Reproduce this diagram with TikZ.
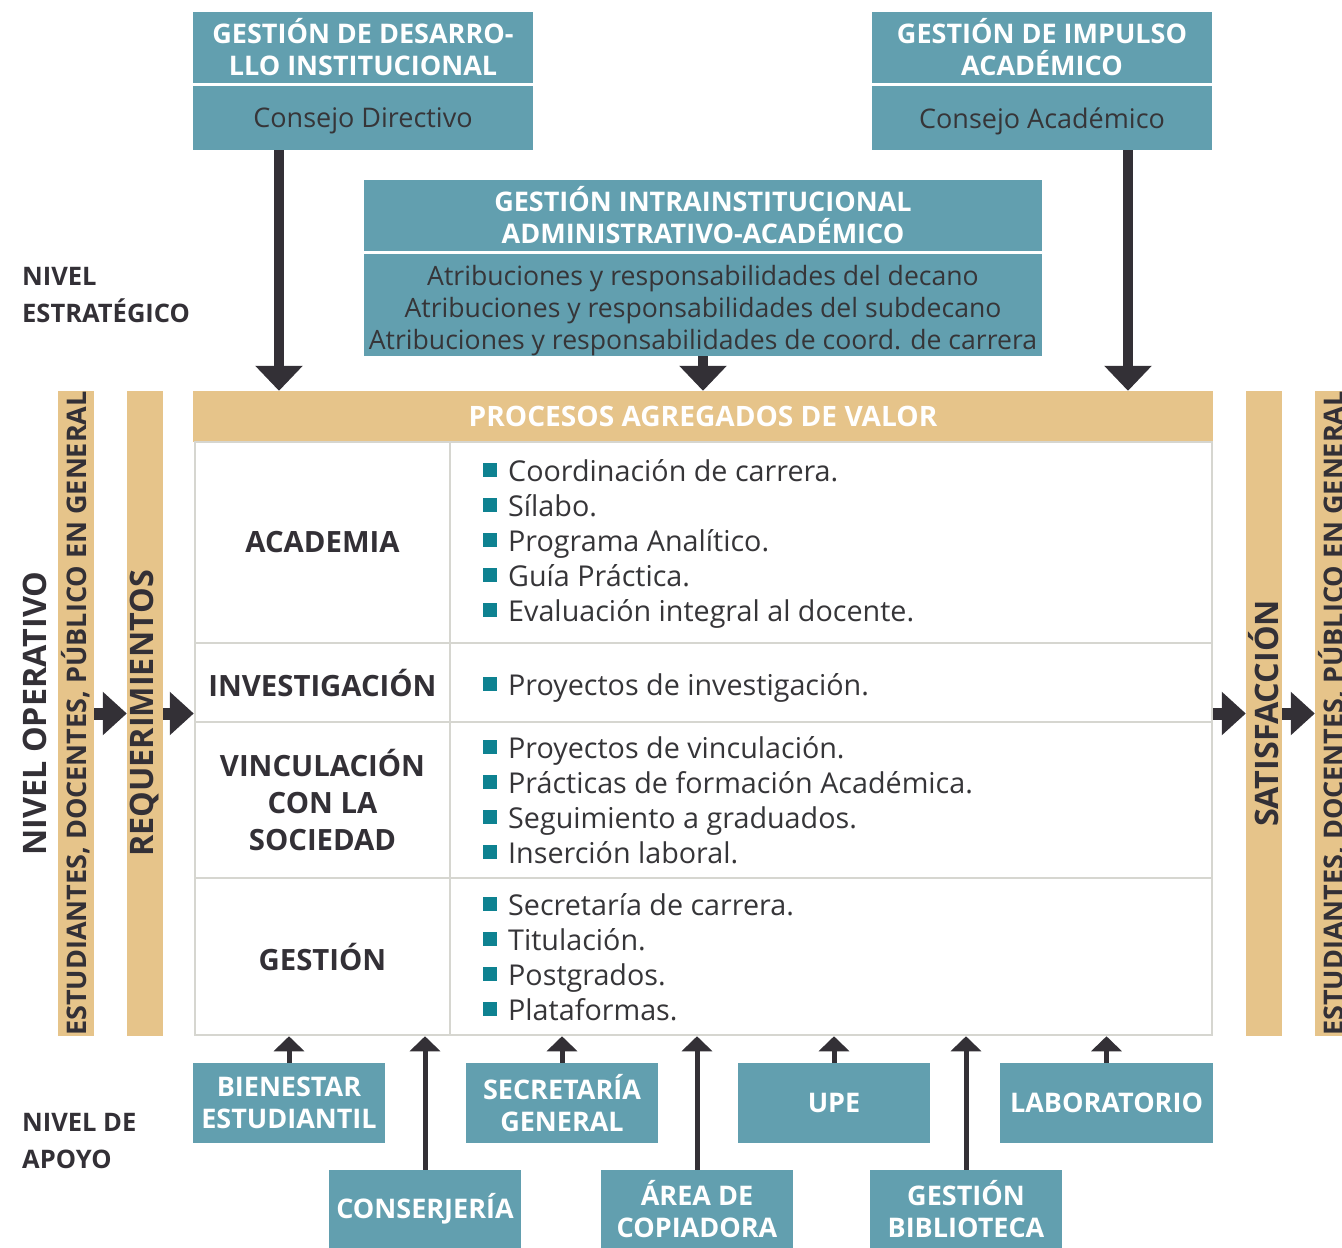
\documentclass[tikz,border=0pt]{standalone}
\usepackage{fontspec}
\setmainfont{Open Sans}
\usetikzlibrary{arrows.meta}
\definecolor{tealbox}{HTML}{629FAF}
\definecolor{tanbar}{HTML}{E6C48A}
\definecolor{darkc}{HTML}{333036}
\definecolor{bulletc}{HTML}{0E8291}
\definecolor{gridc}{HTML}{D6D6D0}
\definecolor{textc}{HTML}{363538}
\newcommand\bfn{\bfseries\fontsize{27}{32}\selectfont}
\newcommand\rgn{\fontsize{27}{32}\selectfont}
\newcommand\bul{\textcolor{bulletc}{\raisebox{4pt}{\rule{14pt}{14pt}}}\hspace{11pt}}
\begin{document}
\begin{tikzpicture}[x=1pt,y=-1pt,
  hbox/.style={fill=tealbox, text=white, font=\bfn, align=center, inner sep=0pt},
  bbox/.style={fill=tealbox, text=textc, font=\rgn, align=center, inner sep=0pt},
  btext/.style={text=textc, font=\rgn, align=center, inner sep=0pt},
  tbar/.style={fill=tanbar, inner sep=0pt, minimum width=36pt, minimum height=645pt},
  bartext/.style={rotate=90, text=darkc, font=\bfn, inner sep=0pt},
  bigbartext/.style={bartext, font=\bfseries\fontsize{32.3}{36}\selectfont},
  cell/.style={draw=gridc, line width=2.5pt, fill=white, inner sep=0pt},
  celllabel/.style={text=darkc, font=\bfseries\fontsize{29.3}{37}\selectfont, align=center},
  item/.style={anchor=base west, text=textc, font=\fontsize{28.7}{34}\selectfont, inner sep=0pt},
  lvl/.style={text=darkc, font=\bfseries\fontsize{25.5}{37}\selectfont, align=left, anchor=west, inner sep=0pt},
  bigdown/.style={draw=darkc, line width=10pt, -{Triangle[width=46pt,length=25pt]}},
  sidearrow/.style={draw=darkc, line width=12pt, -{Triangle[width=42pt,length=24pt]}},
  smallup/.style={draw=darkc, line width=5pt, -{Triangle[width=30pt,length=15pt]}},
]
\useasboundingbox (0,0) rectangle (1342,1248);
\clip (0,0) rectangle (1342,1248);

% top boxes
\node[hbox, minimum width=340pt, minimum height=71pt] (tlh) at (363,47.5) {GESTIÓN DE DESARRO-\\LLO INSTITUCIONAL};
\node[bbox, minimum width=340pt, minimum height=64pt] (tlb) at (363,118) {};
\node[btext] (tlt) at (363,121) {Consejo Directivo};
\node[hbox, minimum width=340pt, minimum height=71pt] (trh) at (1042,47.5) {GESTIÓN DE IMPULSO\\ACADÉMICO};
\node[bbox, minimum width=340pt, minimum height=64pt] (trb) at (1042,118) {};
\node[btext] (trt) at (1042,121) {Consejo Académico};
\node[hbox, minimum width=678pt, minimum height=71pt] (mh) at (703,215.5) {GESTIÓN INTRAINSTITUCIONAL\\ADMINISTRATIVO-ACADÉMICO};
\node[bbox, minimum width=678pt, minimum height=102pt] (mb) at (703,305) {};
\node[btext, font=\fontsize{26.6}{32}\selectfont] (mt) at (703,311) {Atribuciones y responsabilidades del decano\\Atribuciones y responsabilidades del subdecano\\Atribuciones y responsabilidades de coord. de carrera};

% process header
\node[fill=tanbar, text=white, font=\bfseries\fontsize{28.1}{32}\selectfont, inner sep=0pt, minimum width=1020pt, minimum height=51pt] (proc) at (703,416.5) {PROCESOS AGREGADOS DE VALOR};

% top arrows
\coordinate (a1) at ([xshift=-84pt]tlb.south);
\coordinate (a3) at ([xshift=86pt]trb.south);
\draw[bigdown] (a1) -- (a1 |- proc.north);
\draw[bigdown] (mb.south) -- (proc.north);
\draw[bigdown] (a3) -- (a3 |- proc.north);

% table
\node[cell, minimum width=255pt, minimum height=201pt] (acL) at (322.5,542.5) {};
\node[cell, minimum width=762pt, minimum height=201pt] (acR) at (831,542.5) {};
\node[cell, minimum width=255pt, minimum height=79pt] (inL) at (322.5,682.5) {};
\node[cell, minimum width=762pt, minimum height=79pt] (inR) at (831,682.5) {};
\node[cell, minimum width=255pt, minimum height=156pt] (viL) at (322.5,800) {};
\node[cell, minimum width=762pt, minimum height=156pt] (viR) at (831,800) {};
\node[cell, minimum width=255pt, minimum height=157pt] (geL) at (322.5,956.5) {};
\node[cell, minimum width=762pt, minimum height=157pt] (geR) at (831,956.5) {};

\node[celllabel] (tAc) at (acL) {ACADEMIA};
\node[celllabel] (tIn) at (inL) {INVESTIGACIÓN};
\node[celllabel] (tVi) at (viL) {VINCULACIÓN\\CON LA\\SOCIEDAD};
\node[celllabel] (tGe) at (geL) {GESTIÓN};

\foreach \t [count=\i] in {Coordinación de carrera., Sílabo., Programa Analítico., Guía Práctica., Evaluación integral al docente.}
  \node[item] (ia\i) at (483, 481+35*\i-35) {\bul\t};
\node[item] (ii1) at (483, 695) {\bul Proyectos de investigación.};
\foreach \t [count=\i] in {Proyectos de vinculación., Prácticas de formación Académica., Seguimiento a graduados., Inserción laboral.}
  \node[item] (iv\i) at (483, 758+35*\i-35) {\bul\t};
\foreach \t [count=\i] in {Secretaría de carrera., Titulación., Postgrados., Plataformas.}
  \node[item] (ig\i) at (483, 915+35*\i-35) {\bul\t};

% side bars
\node[tbar] (bar1) at (76,713.5) {};
\node[tbar] (bar2) at (145,713.5) {};
\node[tbar] (bar3) at (1264,713.5) {};
\node[tbar] (bar4) at (1333,713.5) {};
\node[bartext] (bt1) at (bar1) {ESTUDIANTES, DOCENTES, PÚBLICO EN GENERAL};
\node[bigbartext] (bt2) at (bar2) {REQUERIMIENTOS};
\node[bigbartext] (bt3) at (bar3) {SATISFACCIÓN};
\node[bartext] (bt4) at (bar4) {ESTUDIANTES, DOCENTES, PÚBLICO EN GENERAL};
\node[bigbartext] (nop) at (35,713.5) {NIVEL OPERATIVO};

\draw[sidearrow] (bar1.east) -- (bar2.west);
\draw[sidearrow] (bar2.east) -- (bar2.east -| acL.west);
\draw[sidearrow] (bar3.west -| acR.east) -- (bar3.west);
\draw[sidearrow] (bar3.east) -- (bar4.west);

% level labels
\node[lvl] (nest) at (22,295) {NIVEL\\ESTRATÉGICO};
\node[lvl] (napo) at (22,1141) {NIVEL DE\\APOYO};

% bottom boxes
\node[hbox, minimum width=192pt, minimum height=80pt] (bien) at (289,1103) {BIENESTAR\\ESTUDIANTIL};
\node[hbox, minimum width=192pt, minimum height=80pt] (secr) at (562,1103) {SECRETARÍA\\GENERAL};
\node[hbox, minimum width=192pt, minimum height=80pt] (upe) at (834,1103) {UPE};
\node[hbox, minimum width=213pt, minimum height=80pt] (lab) at (1106.5,1103) {LABORATORIO};
\node[hbox, minimum width=192pt, minimum height=78pt] (cons) at (425,1209) {CONSERJERÍA};
\node[hbox, minimum width=192pt, minimum height=78pt] (cop) at (697,1209) {ÁREA DE\\COPIADORA};
\node[hbox, minimum width=192pt, minimum height=78pt] (bib) at (966,1209) {GESTIÓN\\BIBLIOTECA};

\draw[smallup] (bien.north) -- (bien.north |- geL.south);
\draw[smallup] (secr.north) -- (secr.north |- geR.south);
\draw[smallup] (upe.north) -- (upe.north |- geR.south);
\draw[smallup] (lab.north) -- (lab.north |- geR.south);
\draw[smallup] (cons.north) -- (cons.north |- geL.south);
\draw[smallup] (cop.north) -- (cop.north |- geR.south);
\draw[smallup] (bib.north) -- (bib.north |- geR.south);
\end{tikzpicture}
\end{document}
